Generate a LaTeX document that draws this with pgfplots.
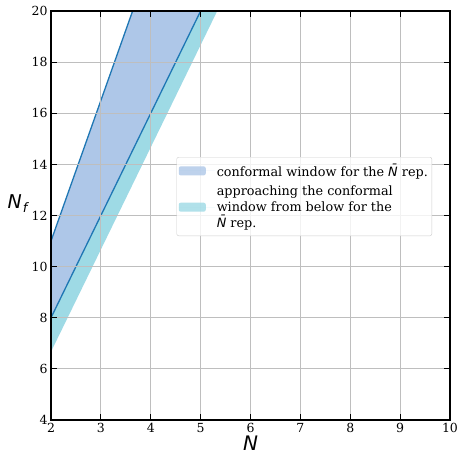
\documentclass[border=0pt]{standalone}
\usepackage{fontspec}
\setmainfont{DejaVu Serif}
\newfontfamily\dvs{DejaVu Sans}
\usepackage{pgfplots}
\pgfplotsset{compat=1.18}

\definecolor{bandblue}{RGB}{174,199,232}
\definecolor{bandcyan}{RGB}{158,218,229}
\definecolor{steelblue31119180}{RGB}{31,119,180}
\definecolor{gridgray}{RGB}{190,190,190}

\begin{document}
\begin{tikzpicture}
\useasboundingbox (-51pt,-35pt) rectangle (410pt,420pt);
\begin{axis}[
scale only axis,
width=399pt, height=409pt,
xmin=2, xmax=10,
ymin=4, ymax=20,
xtick={2,3,4,5,6,7,8,9,10},
ytick={4,6,8,10,12,14,16,18,20},
tick align=inside,
xtick pos=both, ytick pos=both,
xticklabel pos=left, yticklabel pos=left,
major tick length=6pt,
tick style={black, line width=1.1pt},
axis line style={line width=1.2pt},
grid=major,
grid style={gridgray, line width=0.8pt},
axis on top,
/pgf/number format/assume math mode=true,
ticklabel style={font=\fontsize{12.5}{15}\selectfont},
xlabel={{\dvs\itshape N}},
ylabel={{\dvs\itshape N\kern1pt\raisebox{-0.4ex}{\fontsize{13}{13}\selectfont f}}},
xlabel style={at={(axis description cs:0.5,-0.0745)}, anchor=base, inner sep=0pt, font=\fontsize{20}{22}\selectfont},
ylabel style={at={(axis description cs:-0.084,0.53)}, anchor=center, rotate=-90, font=\fontsize{19}{21}\selectfont},
legend style={at={(axis description cs:0.955,0.643)}, anchor=north east,
  draw=gray!40, rounded corners=2pt, fill=white, fill opacity=0.8, text opacity=1,
  font=\fontsize{12.8}{16}\selectfont, cells={anchor=west, align=left}, row sep=4pt,
  inner xsep=2pt, inner ysep=5pt},
legend image code/.code={\fill[#1, draw=none] (0pt,-4.5pt) rectangle (27pt,4.5pt); \path (0pt,0pt) -- (36pt,0pt);},
]
% conformal window band
\addplot[fill=bandblue, draw=none] coordinates {
(2,8) (5,20) (3.6364,20) (2,11) (2,8)
};
\addlegendentry{conformal window for the {\dvs\itshape\={N}} rep.}
% approaching from below
\addplot[fill=bandcyan, draw=none] coordinates {
(2,6.667) (5.333,20) (5,20) (2,8) (2,6.667)
};
\addlegendentry{approaching the conformal\\ window from below for the\\ {\dvs\itshape\={N}} rep.}
% band edges
\addplot[steelblue31119180, line width=1.3pt, forget plot] coordinates {(2,11) (3.6364,20)};
\addplot[steelblue31119180, line width=1.3pt, forget plot] coordinates {(2,8) (5,20)};
\end{axis}
\end{tikzpicture}
\end{document}
